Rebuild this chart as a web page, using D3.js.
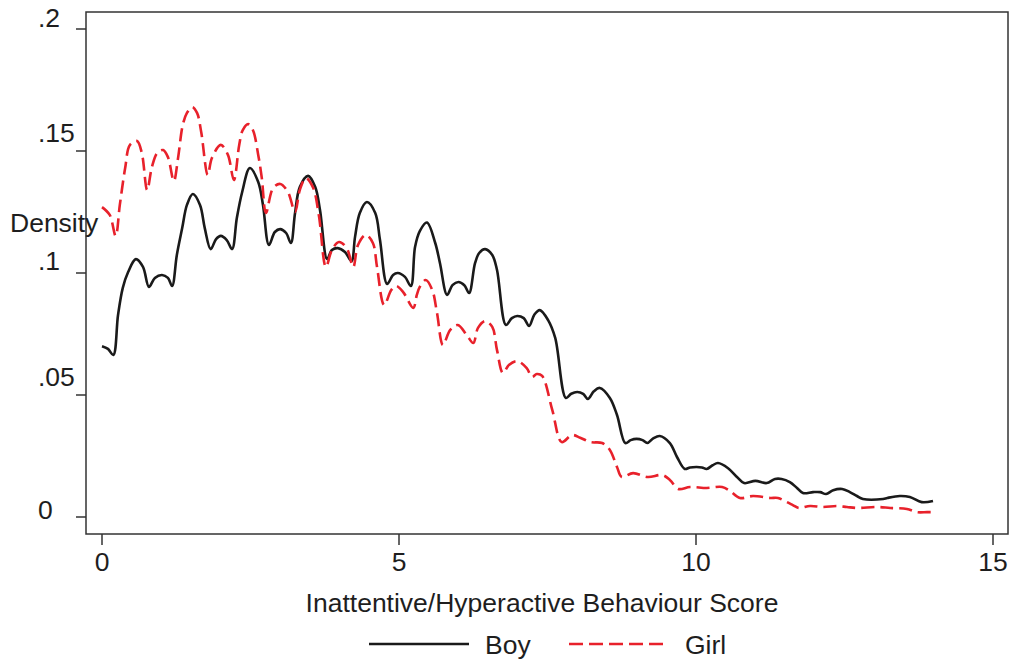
<!DOCTYPE html>
<html><head><meta charset="utf-8">
<script src="https://cdn.jsdelivr.net/npm/d3@7"></script>
<style>body{margin:0;background:#fff}svg{display:block}text{font-family:"Liberation Sans",Arial,sans-serif;fill:#1e1e1e}</style>
</head><body>
<svg id="c" width="1013" height="662"></svg>
<script>
const xTicks = [0, 5, 10, 15];
const xTickLabels = ["0", "5", "10", "15"];
const yTicks = [0, 0.05, 0.1, 0.15, 0.2];
const yTickLabels = ["0", ".05", ".1", ".15", ".2"];
const seriesNames = ["Boy", "Girl"];
const boy = [[0,0.070],[0.1,0.0689],[0.19,0.0664],[0.27,0.0828],[0.35,0.0939],[0.44,0.1004],[0.57,0.1057],[0.69,0.1025],[0.79,0.0943],[0.89,0.098],[1.01,0.0992],[1.11,0.098],[1.18,0.0947],[1.26,0.1074],[1.35,0.1184],[1.43,0.1279],[1.53,0.1324],[1.65,0.1279],[1.73,0.1184],[1.83,0.1098],[1.92,0.1139],[2.0,0.1152],[2.1,0.1135],[2.19,0.1098],[2.27,0.1225],[2.36,0.1332],[2.49,0.1430],[2.63,0.1373],[2.71,0.1279],[2.81,0.1115],[2.91,0.1168],[3.0,0.118],[3.1,0.1164],[3.18,0.1123],[3.25,0.1246],[3.33,0.1352],[3.47,0.1398],[3.59,0.1352],[3.67,0.1258],[3.79,0.1057],[3.87,0.1094],[3.97,0.1102],[4.09,0.1086],[4.2,0.1049],[4.26,0.1148],[4.34,0.1246],[4.46,0.1291],[4.6,0.1246],[4.68,0.1135],[4.8,0.0955],[4.9,0.0992],[4.98,0.1],[5.1,0.0984],[5.2,0.0947],[5.27,0.1107],[5.35,0.1172],[5.47,0.1207],[5.61,0.1123],[5.69,0.104],[5.81,0.091],[5.9,0.095],[6.0,0.0963],[6.1,0.095],[6.18,0.0918],[6.28,0.104],[6.35,0.1082],[6.45,0.1098],[6.57,0.1074],[6.65,0.1012],[6.8,0.0787],[6.9,0.0815],[6.99,0.0824],[7.1,0.0815],[7.19,0.0783],[7.28,0.083],[7.37,0.0848],[7.51,0.0807],[7.63,0.0734],[7.81,0.0488],[7.9,0.0505],[8.0,0.0512],[8.1,0.0505],[8.18,0.0484],[8.28,0.0515],[8.38,0.0529],[8.55,0.0488],[8.67,0.0418],[8.81,0.0303],[8.9,0.0315],[9.0,0.032],[9.1,0.0315],[9.18,0.0303],[9.28,0.0322],[9.39,0.0332],[9.56,0.0303],[9.68,0.0246],[9.81,0.0197],[9.9,0.0203],[10.01,0.0205],[10.1,0.0203],[10.18,0.0197],[10.28,0.0212],[10.37,0.0221],[10.54,0.02],[10.69,0.0164],[10.81,0.0139],[11.0,0.0148],[11.19,0.0139],[11.33,0.0156],[11.44,0.0156],[11.58,0.0143],[11.7,0.0119],[11.8,0.0098],[11.97,0.0102],[12.09,0.0102],[12.19,0.0094],[12.31,0.011],[12.46,0.0115],[12.59,0.0102],[12.71,0.0086],[12.81,0.0074],[13.15,0.0074],[13.22,0.0078],[13.43,0.0086],[13.6,0.0082],[13.8,0.0061],[13.99,0.0066]];
const girl = [[0,0.127],[0.13,0.1238],[0.23,0.1152],[0.3,0.1279],[0.39,0.143],[0.47,0.1525],[0.59,0.1541],[0.67,0.1492],[0.76,0.134],[0.84,0.1434],[0.93,0.1492],[1.03,0.1504],[1.11,0.1475],[1.21,0.1377],[1.28,0.1471],[1.36,0.1607],[1.43,0.1656],[1.52,0.168],[1.6,0.1656],[1.67,0.1578],[1.78,0.1402],[1.85,0.1471],[2.0,0.1525],[2.12,0.1484],[2.22,0.1381],[2.31,0.1525],[2.37,0.1586],[2.46,0.161],[2.54,0.1586],[2.63,0.1484],[2.69,0.139],[2.76,0.1246],[2.88,0.1348],[3.0,0.1365],[3.13,0.1332],[3.25,0.125],[3.33,0.134],[3.43,0.1389],[3.55,0.1352],[3.65,0.1238],[3.77,0.1025],[3.87,0.1094],[3.99,0.1127],[4.12,0.1102],[4.23,0.1025],[4.31,0.1115],[4.44,0.1156],[4.56,0.1123],[4.63,0.1025],[4.75,0.0869],[4.87,0.093],[4.95,0.0947],[5.07,0.0922],[5.24,0.0857],[5.3,0.091],[5.35,0.0943],[5.45,0.0971],[5.56,0.093],[5.64,0.0836],[5.74,0.0705],[5.86,0.0766],[5.99,0.0787],[6.14,0.0746],[6.25,0.0713],[6.33,0.0775],[6.45,0.0803],[6.57,0.0779],[6.65,0.0684],[6.75,0.059],[6.85,0.0623],[6.99,0.0639],[7.15,0.061],[7.24,0.0574],[7.32,0.0586],[7.41,0.0578],[7.58,0.0439],[7.74,0.0307],[7.91,0.0336],[8.05,0.0325],[8.22,0.0307],[8.42,0.0303],[8.55,0.0275],[8.67,0.0205],[8.75,0.0164],[8.94,0.018],[9.19,0.0164],[9.43,0.0172],[9.56,0.0152],[9.7,0.0115],[9.9,0.0123],[10.18,0.0119],[10.44,0.0123],[10.57,0.0107],[10.74,0.0078],[10.96,0.0086],[11.25,0.0078],[11.38,0.0078],[11.53,0.0061],[11.63,0.0049],[11.73,0.0037],[11.92,0.0045],[12.14,0.0041],[12.37,0.0045],[12.54,0.0041],[12.71,0.0037],[13.05,0.0041],[13.27,0.0037],[13.55,0.0033],[13.72,0.002],[13.89,0.002],[13.99,0.002]];

const svg = d3.select("#c");
const box = {l: 86, r: 1008, t: 12, b: 534};
const x = d3.scaleLinear().domain([0, 15]).range([102, 993]);
const y = d3.scaleLinear().domain([0, 0.2]).range([517, 29]);
const axisColor = "#333";
const fs = 26.5;
const yLabelDy = [2, -9, -3, -9, -2];

// frame
svg.append("rect").attr("x", box.l).attr("y", box.t)
  .attr("width", box.r - box.l).attr("height", box.b - box.t)
  .attr("fill", "none").attr("stroke", axisColor).attr("stroke-width", 1.5);

// y axis ticks + labels
const yG = svg.append("g");
yG.selectAll("line").data(yTicks).join("line")
  .attr("x1", box.l - 10).attr("x2", box.l)
  .attr("y1", d => y(d)).attr("y2", d => y(d))
  .attr("stroke", axisColor).attr("stroke-width", 1.5);
yG.selectAll("text").data(yTicks).join("text")
  .attr("x", 38).attr("y", (d, i) => y(d) + yLabelDy[i])
  .attr("font-size", fs)
  .text((d, i) => yTickLabels[i]);

// x axis ticks + labels
const xG = svg.append("g");
xG.selectAll("line").data(xTicks).join("line")
  .attr("x1", d => x(d)).attr("x2", d => x(d))
  .attr("y1", box.b).attr("y2", box.b + 11)
  .attr("stroke", axisColor).attr("stroke-width", 1.5);
xG.selectAll("text").data(xTicks).join("text")
  .attr("x", d => x(d)).attr("y", 571)
  .attr("text-anchor", "middle").attr("font-size", fs)
  .text((d, i) => xTickLabels[i]);

// titles
svg.append("text").attr("x", 542).attr("y", 612).attr("text-anchor", "middle")
  .attr("font-size", fs).text("Inattentive/Hyperactive Behaviour Score");
svg.append("text").attr("x", 10).attr("y", 232).attr("font-size", fs).text("Density");

// lines
const line = d3.line().x(d => x(d[0])).y(d => y(d[1])).curve(d3.curveCatmullRom.alpha(0.5));
const styles = [
  {data: boy, color: "#1a1a1a", dash: null},
  {data: girl, color: "#e8212b", dash: "13,6"}
];
styles.forEach(s => {
  svg.append("path").datum(s.data).attr("d", line)
    .attr("fill", "none").attr("stroke", s.color).attr("stroke-width", 2.6)
    .attr("stroke-linejoin", "round")
    .attr("stroke-dasharray", s.dash);
});

// legend
const legX = [369, 569];
const leg = svg.append("g");
styles.forEach((s, i) => {
  leg.append("line").attr("x1", legX[i]).attr("x2", legX[i] + 100)
    .attr("y1", 644).attr("y2", 644)
    .attr("stroke", s.color).attr("stroke-width", 2.6)
    .attr("stroke-dasharray", s.dash ? "14,6" : null);
  leg.append("text").attr("x", legX[i] + 116).attr("y", 654)
    .attr("font-size", fs).text(seriesNames[i]);
});
</script>
</body></html>
